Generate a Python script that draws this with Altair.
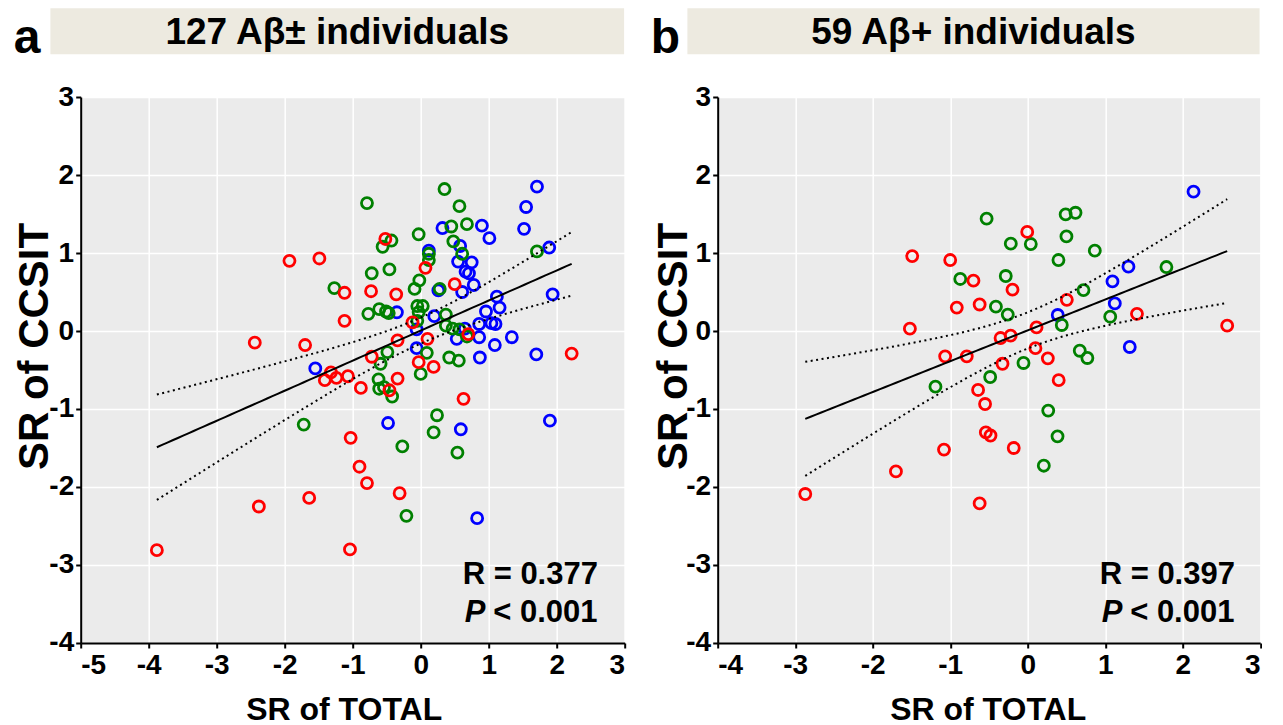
import altair as alt
import numpy as np
import pandas as pd

FONT = "Liberation Sans"

# ---------------- Panel a : 127 Abeta+/- individuals ----------------
a_red_x = [-1.93, -1.49, -1.12, -1.12, -2.44, -1.70, -1.32, -1.41, -1.24, -1.07,
           -1.03, -2.38, -1.64, -3.88, -1.04, -0.52, 0.07, 0.50, -0.73, -0.36,
           -0.12, 0.70, -0.34, 0.10, -0.72, 2.22, -0.03, 0.19, -0.88, -0.46,
           -0.34, 0.63, -0.90, -0.79, -0.31]
a_red_y = [0.90, 0.93, 0.49, 0.13, -0.15, -0.18, -0.53, -0.63, -0.60, -0.58,
           -1.37, -2.25, -2.14, -2.81, -2.80, 1.18, 0.81, 0.60, 0.51, 0.47,
           0.11, -0.04, -0.12, -0.10, -0.33, -0.29, -0.40, -0.46, -0.73, -0.76,
           -0.61, -0.87, -1.74, -1.95, -2.08]
a_green_x = [-1.27, -1.72, 0.35, -0.79, 0.57, 0.45, 0.68, -0.03, -0.43, -0.56,
             0.48, 0.61, 0.12, 0.12, 1.71, -0.72, -0.46, -0.02, -0.09, 0.28,
             -0.77, -0.61, -0.51, -0.47, -0.05, 0.03, -0.03, 0.37, -0.05, 0.37,
             0.47, 0.57, 0.68, -0.49, 0.09, 0.42, 0.56, -0.59, 0.00, -0.62,
             -0.61, -0.54, -0.42, 0.24, 0.19, -0.27, 0.54, -0.21]
a_green_y = [0.55, -1.20, 1.82, 1.64, 1.60, 1.34, 1.37, 1.24, 1.16, 1.08,
             1.15, 0.99, 0.99, 0.91, 1.02, 0.74, 0.79, 0.65, 0.54, 0.54,
             0.22, 0.28, 0.25, 0.23, 0.32, 0.32, 0.24, 0.21, 0.13, 0.07,
             0.03, 0.02, -0.07, -0.27, -0.28, -0.34, -0.38, -0.42, -0.55, -0.62,
             -0.74, -0.72, -0.84, -1.08, -1.30, -1.48, -1.56, -2.37]
a_blue_x = [-1.55, 1.71, 1.55, 1.52, 0.32, 0.90, 1.01, 0.58, 0.12, 0.55,
            0.75, 0.66, 0.71, 0.78, 1.89, 0.26, 0.61, 1.94, 1.12, 1.16,
            0.96, -0.35, 0.20, -0.06, 0.53, 0.65, 0.86, 1.04, 1.10, 0.86,
            1.34, 1.09, -0.06, 0.87, 1.70, -0.48, 0.59, 0.83, 1.90]
a_blue_y = [-0.48, 1.85, 1.59, 1.31, 1.32, 1.35, 1.19, 1.09, 1.03, 0.89,
            0.88, 0.76, 0.74, 0.59, 1.07, 0.52, 0.50, 0.47, 0.44, 0.30,
            0.25, 0.24, 0.19, 0.02, -0.10, 0.03, 0.09, 0.10, 0.09, -0.08,
            -0.08, -0.18, -0.22, -0.34, -0.30, -1.18, -1.26, -2.40, -1.15]

# ---------------- Panel b : 59 Abeta+ individuals ----------------
b_red_x = [-1.49, -1.00, -0.70, -0.915, -0.62, -1.52, -1.065, -0.786, -0.006, -0.196,
           0.505, 1.41, 0.114, 2.574, -0.35, -0.22, 0.10, 0.26, -0.325, -2.87,
           -1.70, -1.08, -0.62, -0.64, -0.55, -0.54, -0.48, -0.18, 0.40]
b_red_y = [0.96, 0.91, 0.645, 0.30, 0.34, 0.03, -0.325, -0.325, 1.27, 0.53,
           0.40, 0.22, 0.046, 0.068, -0.09, -0.06, -0.22, -0.35, -0.42, -2.09,
           -1.80, -1.52, -2.21, -0.756, -0.936, -1.30, -1.34, -1.50, -0.63]
b_green_x = [-0.53, -0.87, -0.218, 0.04, 0.49, 0.617, 0.50, 0.866, 0.397, 1.79,
             -0.283, 0.72, -0.41, -0.257, 0.44, 1.065, 0.672, 0.77, -0.054, -1.19,
             -0.484, 0.265, 0.385, 0.208]
b_green_y = [1.44, 0.667, 1.12, 1.115, 1.495, 1.516, 1.213, 1.03, 0.91, 0.82,
             0.705, 0.525, 0.312, 0.21, 0.077, 0.183, -0.253, -0.346, -0.41, -0.714,
             -0.59, -1.02, -1.35, -1.727]
b_blue_x = [2.14, 1.30, 1.094, 1.124, 0.388, 1.317]
b_blue_y = [1.786, 0.825, 0.636, 0.354, 0.205, -0.205]

y_ticks = [-4, -3, -2, -1, 0, 1, 2, 3]
a_x_ticks = [-5, -4, -3, -2, -1, 0, 1, 2, 3]
b_x_ticks = [-4, -3, -2, -1, 0, 1, 2, 3]

group_names = ["blue", "green", "red"]
group_colors = ["#0000ff", "#008000", "#ff0000"]


def points_df(bx, by, gx, gy, rx, ry):
    rows = []
    for name, xs, ys in (("blue", bx, by), ("green", gx, gy), ("red", rx, ry)):
        for x, y in zip(xs, ys):
            rows.append({"x": x, "y": y, "g": name})
    return pd.DataFrame(rows)


def fit_frames(df, tcrit):
    x = df["x"].to_numpy(float)
    y = df["y"].to_numpy(float)
    n = len(x)
    slope, icpt = np.polyfit(x, y, 1)
    res = y - (icpt + slope * x)
    s = np.sqrt((res ** 2).sum() / (n - 2))
    sxx = ((x - x.mean()) ** 2).sum()
    xg = np.linspace(x.min(), x.max(), 80)
    yg = icpt + slope * xg
    se = s * np.sqrt(1.0 / n + (xg - x.mean()) ** 2 / sxx)
    line = pd.DataFrame({"x": xg, "y": yg})
    band = pd.concat([
        pd.DataFrame({"x": xg, "y": yg + tcrit * se, "side": "upper"}),
        pd.DataFrame({"x": xg, "y": yg - tcrit * se, "side": "lower"}),
    ])
    return line, band


NEG = "datum.value < 0 ? '-' + abs(datum.value) : '' + datum.value"
LABEL_SIZE = 28

AXIS_COMMON = dict(
    labelFont=FONT, labelFontSize=LABEL_SIZE, labelFontWeight="bold", labelColor="black",
    titleFont=FONT, titleFontWeight="bold", titleColor="black",
    domainColor="black", domainWidth=2, tickColor="black", tickWidth=2, tickSize=5,
    gridColor="white", gridWidth=1.5, grid=True, labelExpr=NEG,
)


def panel(df, xdom, xticks, width, letter, title, r_text, ytitle_x, xtitle_x, tcrit):
    height = 546
    xenc = alt.X("x:Q", scale=alt.Scale(domain=xdom, nice=False, zero=False),
                 axis=alt.Axis(values=xticks, title="SR of TOTAL", labelPadding=4,
                               titleFontSize=32, titleX=xtitle_x, titleY=77,
                               titleBaseline="alphabetic", titleAlign="center",
                               **AXIS_COMMON))
    yenc = alt.Y("y:Q", scale=alt.Scale(domain=[-4, 3], nice=False, zero=False),
                 axis=alt.Axis(values=y_ticks, title="SR of CCSIT", labelPadding=2,
                               titleFontSize=42, titleX=ytitle_x, titleY=249,
                               titleAngle=270, titleBaseline="alphabetic",
                               titleAlign="center", **AXIS_COMMON))
    color = alt.Color("g:N", scale=alt.Scale(domain=group_names, range=group_colors),
                      legend=None)
    pts = alt.Chart(df).mark_point(shape="circle", filled=False, size=122, strokeWidth=2.8,
                                   opacity=1).encode(x=xenc, y=yenc, color=color)
    line_df, band_df = fit_frames(df, tcrit)
    line = alt.Chart(line_df).mark_line(color="black", strokeWidth=2).encode(x=xenc, y=yenc)
    band = alt.Chart(band_df).mark_line(color="black", strokeWidth=2,
                                        strokeDash=[2, 3.5]).encode(
        x=xenc, y=yenc, detail="side:N")
    hdr = alt.Chart(pd.DataFrame({"t": [title]})).mark_rect(color="#edeae0").encode(
        x=alt.value(-30.3), x2=alt.value(width - 0.6), y=alt.value(-88.7), y2=alt.value(-42.7))
    hdr_txt = alt.Chart(pd.DataFrame({"t": [title]})).mark_text(
        font=FONT, fontSize=37, fontWeight="bold", color="black", align="center",
        baseline="alphabetic").encode(
        x=alt.value((width - 30.9) / 2), y=alt.value(-53.5), text="t:N")
    let = alt.Chart(pd.DataFrame({"t": [letter]})).mark_text(
        font=FONT, fontSize=48, fontWeight="bold", color="black", align="left",
        baseline="alphabetic").encode(x=alt.value(-67), y=alt.value(-44.5), text="t:N")
    r_lbl = alt.Chart(pd.DataFrame({"t": [r_text]})).mark_text(
        font=FONT, fontSize=31, fontWeight="bold", color="black", align="left",
        baseline="alphabetic").encode(x=alt.value(382), y=alt.value(487.3), text="t:N")
    p_lbl = alt.Chart(pd.DataFrame({"t": ["P"]})).mark_text(
        font=FONT, fontSize=31, fontWeight="bold", fontStyle="italic", color="black",
        align="left", baseline="alphabetic").encode(x=alt.value(384), y=alt.value(525), text="t:N")
    p_rest = alt.Chart(pd.DataFrame({"t": ["< 0.001"]})).mark_text(
        font=FONT, fontSize=31, fontWeight="bold", color="black", align="left",
        baseline="alphabetic").encode(x=alt.value(412.5), y=alt.value(525), text="t:N")
    return alt.layer(hdr, hdr_txt, let, pts, band, line, r_lbl, p_lbl, p_rest).properties(
        width=width, height=height)


df_a = points_df(a_blue_x, a_blue_y, a_green_x, a_green_y, a_red_x, a_red_y)
df_b = points_df(b_blue_x, b_blue_y, b_green_x, b_green_y, b_red_x, b_red_y)

pa = panel(df_a, [-5, 3], a_x_ticks, 544, "a", "127 A\u03b2\u00b1 individuals", "R = 0.377",
           -33, 263, 1.98)
pb = panel(df_b, [-4, 3], b_x_ticks, 542.5, "b", "59 A\u03b2+ individuals", "R = 0.397",
           -31, 270, 2.003)

chart = alt.hconcat(pa, pb, spacing=25).properties(
    padding={"left": 4.7, "top": 0, "right": 0, "bottom": 0}
).configure_view(
    fill="#ebebeb", strokeWidth=0
).configure_axis(
    labelFontSize=LABEL_SIZE, labelFontWeight="bold", labelFont=FONT, labelColor="black"
).configure_concat(spacing=25)

chart.save("out.html", embed_options={"renderer": "svg", "actions": False})
